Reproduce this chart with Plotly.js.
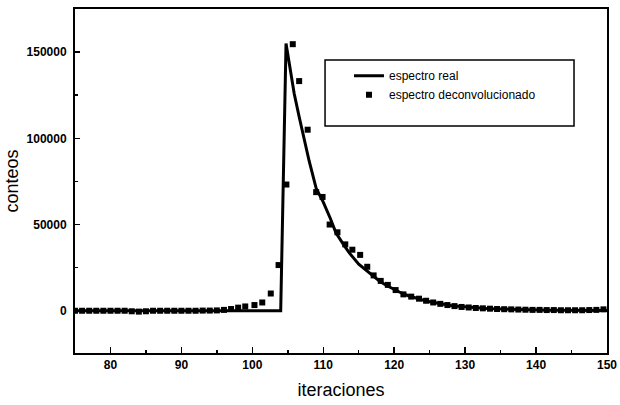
<!DOCTYPE html>
<html>
<head>
<meta charset="utf-8">
<script src="https://cdn.plot.ly/plotly-3.0.1.min.js"></script>
<style>html,body{margin:0;padding:0;background:#fff;}#chart{width:620px;height:405px;}</style>
</head>
<body>
<div id="chart"></div>
<script>
// espectro real (line)
const realX = [75, 80, 85, 90, 95, 100, 104, 104.75, 105.2, 105.9, 106.6, 107.3, 108, 109, 110, 111, 111.8, 113, 113.7, 115, 116.5, 118, 119, 120, 121, 122, 123, 124, 125, 126, 127, 128, 129, 130, 131, 132, 133, 134, 135, 136, 137, 138, 139, 140, 142, 144, 146, 148, 150];
const realY = [0, 0, 0, 0, 0, 0, 0, 155000, 143500, 126000, 112500, 99000, 87000, 71000, 63000, 53500, 45000, 37500, 33400, 27000, 21800, 17000, 14500, 12200, 10300, 8700, 7300, 6200, 5200, 4400, 3700, 3100, 2600, 2200, 1900, 1600, 1300, 1100, 950, 800, 700, 600, 500, 400, 300, 250, 200, 150, 100];

// espectro deconvolucionado (squares)
const decX = [75, 76, 77, 78, 79, 80, 81, 82, 83, 84, 85, 86, 87, 88, 89, 90, 91, 92, 93, 94, 95, 96, 97, 98, 99, 100.3,
  101.4, 102.6, 103.7, 104.8, 105.7, 106.6, 107.8, 109.0, 109.9, 110.9, 112.0, 113.1, 114.1, 115.2, 116.2, 117.1, 118.1, 119.1, 120.2,
  121.3, 122.4, 123.5, 124.5, 125.5, 126.5, 127.5, 128.5, 129.5, 130.5, 131.5, 132.5, 133.5, 134.5, 135.5, 136.5, 137.5, 138.5, 139.5,
  140.5, 141.5, 142.5, 143.5, 144.5, 145.5, 146.5, 147.5, 148.5, 149.5];
const decY = [0, 0, 0, 0, 0, 0, 0, 0, -300, -500, -300, 0, 0, 0, 0, 0, 0, 0, 100, 100, 200, 500, 1000, 1800, 2500, 3300,
  4800, 10000, 26500, 73200, 154600, 133200, 105000, 68800, 66000, 50000, 45500, 38500, 35400, 32400, 25500, 20500, 17300, 15000, 12000,
  9500, 8200, 7000, 5800, 4800, 4000, 3300, 2700, 2200, 1900, 1600, 1400, 1200, 1000, 900, 800, 700, 600, 500,
  500, 400, 400, 300, 300, 300, 300, 400, 500, 800];

const legendNames = ["espectro real", "espectro deconvolucionado"];
const xTitle = "iteraciones";
const yTitle = "conteos";

const tickFont = {family: "Liberation Sans, Arial, sans-serif", size: 12, color: "#000", weight: "bold"};
const titleFont = {family: "Liberation Sans, Arial, sans-serif", size: 18, color: "#000"};

const traces = [
  {x: realX, y: realY, type: "scatter", mode: "lines", name: legendNames[0],
   line: {color: "#000", width: 3}},
  {x: decX, y: decY, type: "scatter", mode: "markers", name: legendNames[1],
   marker: {symbol: "square", size: 6, color: "#000"}}
];

const layout = {
  width: 620, height: 405,
  margin: {l: 75, r: 13, t: 9, b: 52, pad: 0},
  paper_bgcolor: "#fff", plot_bgcolor: "#fff",
  showlegend: true,
  legend: {x: 0.515, y: 0.848, xanchor: "left", yanchor: "top", bgcolor: "rgba(0,0,0,0)", borderwidth: 0,
           font: {family: "Liberation Sans, Arial, sans-serif", size: 12, color: "#000"}, tracegroupgap: 0},
  xaxis: {range: [75, 150], dtick: 10, tick0: 0, ticks: "inside", ticklen: 6, tickwidth: 1.5, tickcolor: "#000",
          minor: {dtick: 5, tick0: 0, ticks: "inside", ticklen: 3, tickwidth: 1.5, tickcolor: "#000"},
          showgrid: false, zeroline: false, showline: true, mirror: true, linecolor: "#000", linewidth: 2,
          tickfont: tickFont, title: {text: xTitle, font: titleFont, standoff: 12}, automargin: false},
  yaxis: {range: [-24500, 175000], dtick: 50000, tick0: 0, ticks: "inside", ticklen: 5, tickwidth: 1.5, tickcolor: "#000",
          minor: {dtick: 25000, tick0: 0, ticks: "inside", ticklen: 3, tickwidth: 1.5, tickcolor: "#000"},
          tickformat: "d", showgrid: false, zeroline: false, showline: true, mirror: true, linecolor: "#000", linewidth: 2,
          tickfont: tickFont, ticklabelstandoff: 4, title: {text: yTitle, font: titleFont, standoff: 3}, automargin: false},
  shapes: [
    {type: "rect", xref: "paper", yref: "paper", x0: 0.470, x1: 0.938, y0: 0.660, y1: 0.852,
     line: {color: "#000", width: 1.5}, fillcolor: "rgba(0,0,0,0)"}
  ]
};

Plotly.newPlot("chart", traces, layout, {displayModeBar: false, staticPlot: true});
</script>
</body>
</html>
